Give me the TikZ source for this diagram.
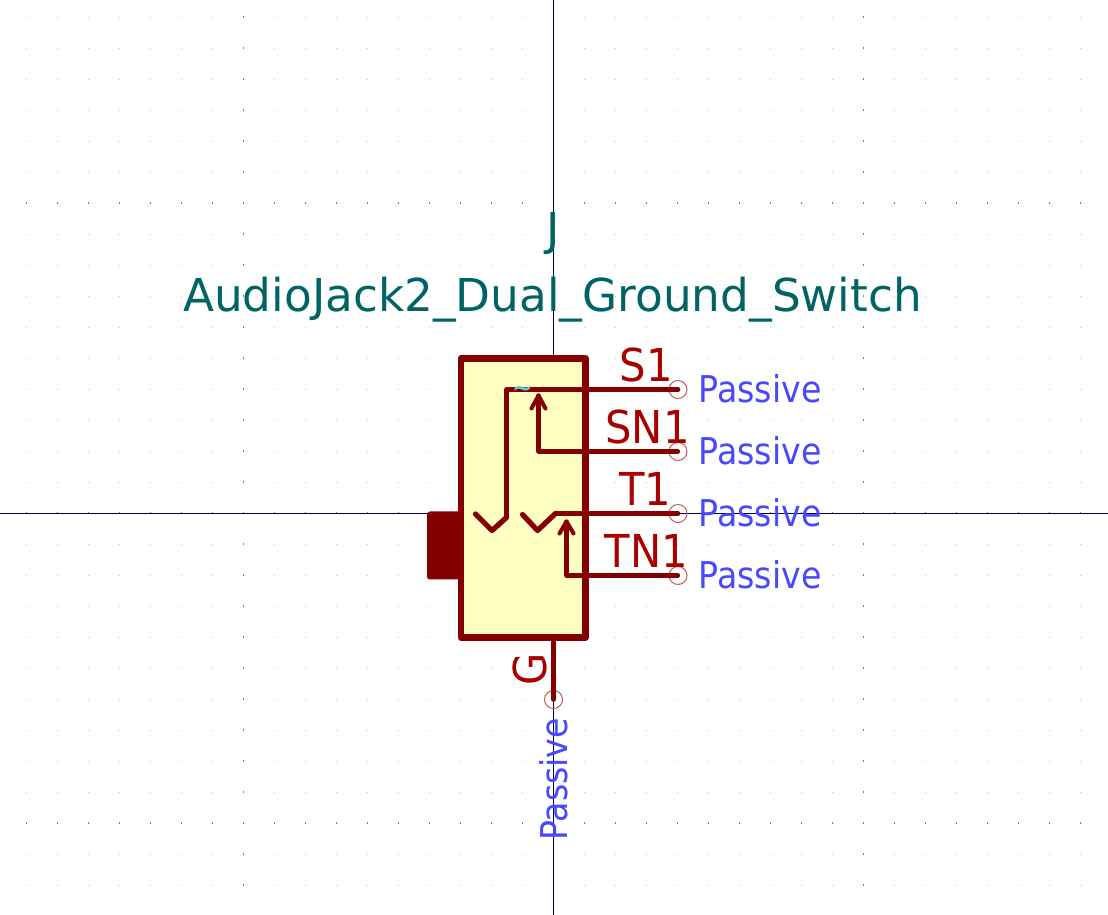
\documentclass[tikz,border=0pt]{standalone}
\usepackage{fontspec}
\usepackage{xcolor}
\setmainfont{DejaVu Sans}
\newfontfamily\pinnamefont[FakeStretch=0.92]{DejaVu Sans}
\newfontfamily\pintypefont[FakeStretch=0.9]{DejaVu Sans}
\usetikzlibrary{positioning,calc,arrows.meta}

\definecolor{bodyred}{HTML}{840000}
\definecolor{bodyfill}{HTML}{FFFFC2}
\definecolor{namered}{HTML}{A90000}
\definecolor{circred}{HTML}{C46060}
\definecolor{typeblue}{HTML}{4848FF}
\definecolor{refteal}{HTML}{006464}
\definecolor{axisnavy}{HTML}{000050}
\definecolor{markcyan}{HTML}{5FC8C8}

\tikzset{
  pinline/.style={line width=1.3pt, draw=bodyred, line cap=round, line join=round},
  contactline/.style={pinline, line width=1.5pt},
  arrowline/.style={pinline, line width=1.15pt},
  pincirc/.style={circle, draw=circred, line width=0.3pt, inner sep=0pt, minimum size=0.18cm},
  pinname/.style={anchor=base, text=namered, font=\pinnamefont\fontsize{12.9}{14}\selectfont},
  pintype/.style={anchor=base, text=typeblue, font=\pintypefont\fontsize{10.5}{12}\selectfont},
  titletext/.style={anchor=base, text=refteal, font=\fontsize{12.9}{14}\selectfont}
}

\begin{document}
\begin{tikzpicture}
  \useasboundingbox (0,0) rectangle (11.08,9.15);
  \fill[white] (0,0) rectangle (11.08,9.15);

  \begin{scope}[shift={(5.535,4.015)}]
  % Grid dots
  \foreach \i in {-17,...,17} {
    \foreach \j in {-12,...,16} {
      \pgfmathtruncatemacro{\ma}{mod(abs(\i),10)*mod(abs(\j),10)}
      \ifnum\ma=0
        \fill[black!50] (0.31*\i-0.005,0.31*\j-0.01) rectangle (0.31*\i+0.005,0.31*\j+0.01);
      \else
        \fill[black!22] (0.31*\i-0.005,0.31*\j-0.005) rectangle (0.31*\i+0.005,0.31*\j+0.005);
      \fi
    }
  }

  % Axes
  \coordinate (axisL) at (-5.54,0);
  \coordinate (axisR) at (5.55,0);
  \coordinate (axisT) at (0,5.14);
  \coordinate (axisB) at (0,-4.02);
  \draw[axisnavy, line width=0.28pt] (axisL) -- (axisR);
  \draw[axisnavy, line width=0.28pt] (axisB) -- (axisT);

  % Tab
  \fill[bodyred, rounded corners=0.8pt] (-1.265,0.02) rectangle (-0.9,-0.66);

  % Body
  \draw[draw=bodyred, fill=bodyfill, line width=1.9pt, line join=round] (-0.925,1.55) rectangle (0.32,-1.24);

  % Pin ends
  \node[pincirc] (pS) at (1.245,1.24) {};
  \node[pincirc] (pSN) at (1.245,0.62) {};
  \node[pincirc] (pT) at (1.245,0) {};
  \node[pincirc] (pTN) at (1.245,-0.62) {};
  \node[pincirc] (pG) at (0,-1.86) {};
  \coordinate (gTop) at (0,-1.24);

  % Contacts
  \draw[pinline] (pS.center) -- (-0.47,1.24) -- (-0.47,-0.04);
  \draw[contactline] (-0.47,-0.04) -- (-0.615,-0.17) -- (-0.78,-0.005);
  \draw[pinline] (pT.center) -- (0.02,0);
  \draw[contactline] (0.02,0) -- (-0.16,-0.17) -- (-0.31,-0.01);
  \draw[arrowline] (pSN.center) -- (-0.15,0.62) -- (-0.15,1.18);
  \draw[arrowline] (-0.22,1.05) -- (-0.15,1.18) -- (-0.08,1.05);
  \draw[arrowline] (pTN.center) -- (0.13,-0.62) -- (0.13,-0.08);
  \draw[arrowline] (0.06,-0.2) -- (0.13,-0.08) -- (0.2,-0.2);
  \draw[pinline] (gTop) -- (pG.center);

  % Value mark
  \node[text=markcyan, font=\bfseries\fontsize{7}{7}\selectfont, inner sep=0pt] (valS) at (-0.31,1.22) {\textasciitilde};

  % Names
  \node[titletext] (refJ) at (0,2.68) {J};
  \node[titletext] (nameJ) at (-0.01,2.02) {AudioJack2\_Dual\_Ground\_Switch};
  \node[pinname] (nS) at (0.93,1.32) {S1};
  \node[pinname] (nSN) at (0.94,0.70) {SN1};
  \node[pinname] (nT) at (0.92,0.08) {T1};
  \node[pinname] (nTN) at (0.93,-0.54) {TN1};
  \node[pinname, rotate=90] (nG) at (-0.07,-1.56) {G};

  % Pin types
  \node[pintype] (tS) at (2.065,1.11) {Passive};
  \node[pintype] (tSN) at (2.065,0.49) {Passive};
  \node[pintype] (tT) at (2.065,-0.13) {Passive};
  \node[pintype] (tTN) at (2.065,-0.75) {Passive};
  \node[pintype, rotate=90] (tG) at (0.14,-2.66) {Passive};
  \end{scope}
\end{tikzpicture}
\end{document}
